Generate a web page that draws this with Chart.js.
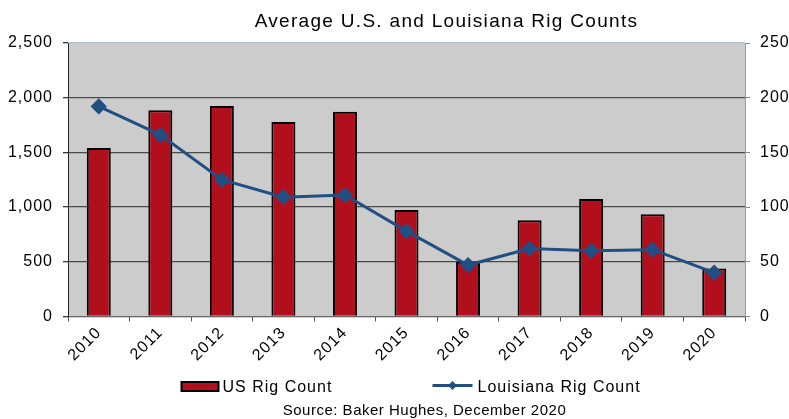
<!DOCTYPE html>
<html><head><meta charset="utf-8">
<script src="https://cdn.jsdelivr.net/npm/chart.js@4"></script>
<style>html,body{margin:0;padding:0;background:#fff}#wrap{width:789px;height:419px}</style>
</head><body><div id="wrap"><canvas id="c" width="789" height="419"></canvas></div>
<script>
const years = ['2010','2011','2012','2013','2014','2015','2016','2017','2018','2019','2020'];
const usRigCount = [1541, 1884, 1924, 1777, 1872, 974, 500, 880, 1073, 935, 438];
const louisianaRigCount = [192, 166, 125, 109, 111, 78, 47, 62, 60, 61, 40];
const leftTicks = [0, 500, 1000, 1500, 2000, 2500];
const rightTicks = [0, 50, 100, 150, 200, 250];
const titleText = 'Average U.S. and Louisiana Rig Counts';
const sourceText = 'Source: Baker Hughes, December 2020';
const seriesNames = ['US Rig Count', 'Louisiana Rig Count'];

const RED = '#b20f1d', BLUE = '#214f84';
const FONT = '"Liberation Sans", Arial, sans-serif';

const spacingPlugin = {id:'spacing',
  beforeLayout(chart){chart.ctx.letterSpacing='1px';},
  beforeDraw(chart){chart.ctx.letterSpacing='1px';}};
const bgPlugin = {id:'bg', beforeDraw(chart){const a=chart.chartArea,ctx=chart.ctx;ctx.save();ctx.fillStyle='#cccccc';ctx.fillRect(a.left,a.top,a.right-a.left,a.bottom-a.top);ctx.restore();}};

// Title, legend and source note drawn as real canvas text
const textPlugin = {id:'texts', afterDraw(chart){
  const ctx=chart.ctx, a=chart.chartArea;
  const mid=(a.left+a.right)/2;
  ctx.save();
  ctx.fillStyle='#000'; ctx.textBaseline='alphabetic';
  // title
  ctx.letterSpacing='1.3px'; ctx.font='19px '+FONT; ctx.textAlign='center';
  ctx.fillText(titleText, mid+40, 27);
  // legend
  ctx.letterSpacing='1px'; ctx.font='16px '+FONT; ctx.textAlign='left';
  const ly=392, lx=mid-226;
  ctx.fillStyle=RED; ctx.fillRect(lx+1, ly-10, 37, 9);
  ctx.strokeStyle='#000'; ctx.lineWidth=2; ctx.strokeRect(lx+1, ly-10, 37, 9);
  ctx.fillStyle='#000'; ctx.fillText(seriesNames[0], lx+42, ly);
  const l2=lx+252;
  ctx.strokeStyle=BLUE; ctx.lineWidth=3; ctx.beginPath(); ctx.moveTo(l2, ly-6.5); ctx.lineTo(l2+40, ly-6.5); ctx.stroke();
  ctx.fillStyle=BLUE; ctx.beginPath(); ctx.moveTo(l2+20, ly-11); ctx.lineTo(l2+24.5, ly-6.5); ctx.lineTo(l2+20, ly-2); ctx.lineTo(l2+15.5, ly-6.5); ctx.closePath(); ctx.fill();
  ctx.fillStyle='#000'; ctx.fillText(seriesNames[1], l2+45, ly);
  // source
  ctx.letterSpacing='0.5px'; ctx.font='15px '+FONT; ctx.textAlign='center';
  ctx.fillText(sourceText, mid+18, 415);
  ctx.restore();
}};

new Chart(document.getElementById('c'), {
  data: {
    labels: years,
    datasets: [
      {type:'line', label:seriesNames[1], data: louisianaRigCount, yAxisID:'y1', borderColor:BLUE, backgroundColor:BLUE, borderWidth:3, pointStyle:'rectRot', pointRadius:6, pointHoverRadius:6, tension:0, order:0},
      {type:'bar', label:seriesNames[0], data: usRigCount, yAxisID:'y', backgroundColor:RED, borderColor:'#000', borderWidth:2, barPercentage:0.39, categoryPercentage:1, order:1}
    ]
  },
  options: {
    responsive:false, animation:false,
    layout:{padding:{left:8,right:0,top:43,bottom:52}},
    plugins:{ title:{display:false}, legend:{display:false}, tooltip:{enabled:false} },
    scales:{
      x:{offset:true, afterFit(s){s.paddingLeft=0;s.paddingRight=0;},
        grid:{display:true, drawOnChartArea:false, drawTicks:true, tickLength:5, color:'#555', offset:true},
        border:{color:'#666', width:1},
        ticks:{color:'#000', font:{family:FONT,size:16}, maxRotation:45, minRotation:45, padding:2}},
      y:{position:'left', min:0, max:2500, afterBuildTicks(s){s.ticks=leftTicks.map(v=>({value:v}));},
        afterFit(s){s.width=60;},
        grid:{color:(c)=>c.tick && c.tick.value===2500 ? '#b0c0cc' : '#4a4a4a', lineWidth:1.3, tickLength:5, tickColor:'#333'},
        border:{color:'#222', width:1},
        ticks:{color:'#000', font:{family:FONT,size:16}, padding:10, callback:(v)=>v.toLocaleString('en-US')}},
      y1:{position:'right', min:0, max:250, afterBuildTicks(s){s.ticks=rightTicks.map(v=>({value:v}));},
        afterFit(s){s.width=44;},
        grid:{drawOnChartArea:false, tickLength:5, color:'#888'},
        border:{color:'#999', width:1},
        ticks:{color:'#000', font:{family:FONT,size:16}, padding:10}}
    }
  },
  plugins:[spacingPlugin, bgPlugin, textPlugin]
});
</script></body></html>
